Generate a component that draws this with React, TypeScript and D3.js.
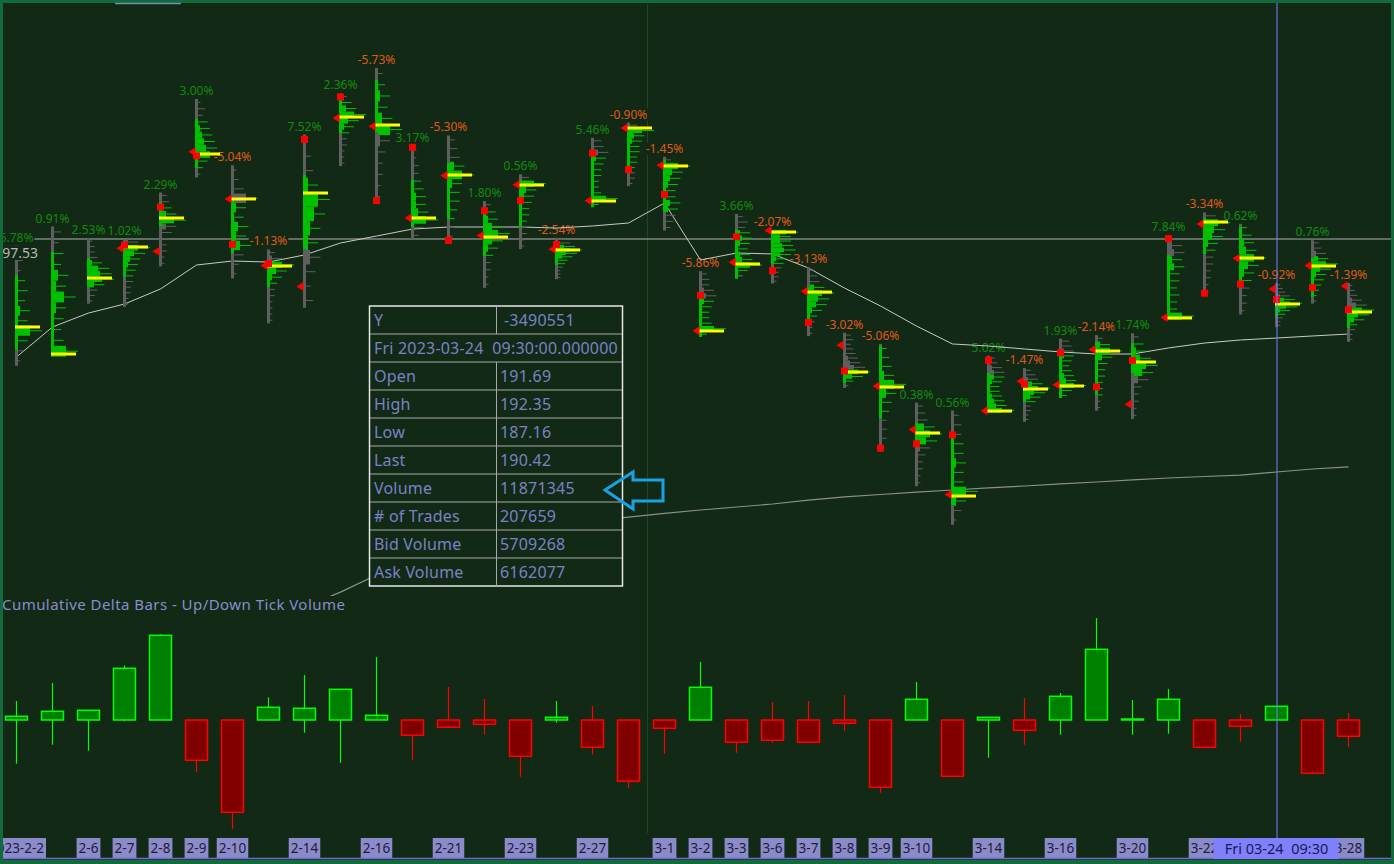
import * as d3 from 'd3';

// ---- data ----
const dates = ['2-2','2-3','2-6','2-7','2-8','2-9','2-10','2-13','2-14','2-15','2-16','2-17','2-21','2-22','2-23','2-24','2-27','2-28','3-1','3-2','3-3','3-6','3-7','3-8','3-9','3-10','3-13','3-14','3-15','3-16','3-17','3-20','3-21','3-22','3-23','3-24','3-27','3-28'];
const opens = [187.33,183.95,193.01,196.43,196.1,207.78,202.23,194.42,191.94,211.76,210.78,199.99,204.99,197.93,203.91,196.33,202.03,210.59,206.21,186.74,194.8,198.54,191.38,185.04,180.25,175.13,167.46,177.31,180.8,180.37,184.52,178.08,188.28,199.3,195.26,191.65,194.42,192.0];
const highs = [196.75,199.0,197.6,197.5,203.0,214.0,206.2,196.3,209.82,214.66,217.65,208.44,209.71,201.99,205.14,197.67,209.42,211.23,207.2,193.75,200.48,198.6,194.2,186.5,185.18,178.29,177.35,183.8,182.34,185.81,186.22,186.44,198.0,200.66,199.31,192.35,197.39,192.35];
const lows = [182.61,183.69,189.92,189.55,194.31,204.77,192.89,187.61,189.44,206.11,201.84,197.5,197.35,191.78,196.33,192.8,201.26,203.75,198.52,186.01,192.88,192.3,186.1,180.0,172.51,168.44,163.91,177.1,176.03,178.84,177.33,176.35,188.04,190.95,188.65,187.16,189.94,185.43];
const closes = [188.27,189.98,194.76,196.81,201.29,207.32,196.89,194.64,209.25,214.24,202.04,208.31,197.37,200.86,202.07,196.88,207.63,205.71,202.77,190.9,197.79,193.81,187.71,182.0,172.92,173.44,174.48,183.26,180.45,184.13,180.13,183.25,197.58,191.15,192.22,190.41,191.81,189.19];
const vaHighs = [193.29,196.0,195.29,196.59,201.88,211.65,202.24,194.82,205.06,213.88,216.24,204.47,206.47,200.82,204.47,196.82,207.65,210.59,206.82,190.71,198.59,198.35,191.88,182.24,184.94,175.88,174.24,181.76,180.71,184.12,185.41,185.29,195.65,200.0,198.94,190.71,195.29,189.18];
const vaLows = [184.47,183.69,191.88,193.06,199.06,205.88,195.88,191.88,196.35,210.0,210.12,198.94,199.88,195.53,198.94,194.47,201.29,205.88,200.71,186.01,192.88,194.59,188.12,180.59,176.47,173.53,166.24,177.29,178.35,178.84,179.18,181.76,188.12,195.76,192.12,188.35,190.71,187.06];
const pocs = [187.18,184.0,192.94,196.59,200.0,207.53,202.24,194.35,202.94,211.88,210.94,200.0,205.06,197.76,203.88,196.24,202.0,210.59,206.12,186.71,194.59,198.35,191.29,181.88,180.12,174.71,167.29,177.29,179.88,180.24,184.35,183.06,188.24,199.53,195.29,189.88,194.35,188.94];
const pctLabels = ['6.78%','0.91%','2.53%','1.02%','2.29%','3.00%','-5.04%','-1.13%','7.52%','2.36%','-5.73%','3.17%','-5.30%','1.80%','0.56%','-2.54%','5.46%','-0.90%','-1.45%','-5.86%','3.66%','-2.07%','-3.13%','-3.02%','-5.06%','0.38%','0.56%','5.02%','-1.47%','1.93%','-2.14%','1.74%','7.84%','-3.34%','0.62%','-0.92%','0.76%','-1.39%'];
// volume profile, 12 bins each, top -> bottom
const profiles = [
  [1,2,1,3,4,3,5,4,10,4,2,1],[3,2,4,3,6,5,9,5,4,3,4,10],[1,2,2,3,5,8,9,10,6,3,2,1],[5,10,8,6,5,4,3,3,2,2,1,1],
  [2,3,4,6,10,6,4,3,2,2,1,1],[1,3,2,4,5,6,7,8,10,4,2,1],[1,2,4,10,5,4,6,5,7,4,2,1],[2,5,10,7,5,3,2,2,1,1,1,1],
  [1,2,3,5,10,8,6,5,6,4,2,3],[2,4,6,10,7,5,3,2,2,1,1,1],[2,3,5,4,6,10,5,3,2,2,1,1],[1,1,2,2,3,4,5,5,6,10,4,2],
  [2,3,4,6,10,5,4,4,3,2,2,1],[2,4,5,7,10,7,5,3,2,2,1,1],[3,10,6,5,4,3,3,2,2,2,1,1],[3,5,7,10,8,6,4,3,2,1,1,1],
  [3,4,6,5,4,3,3,2,2,3,10,2],[3,10,6,5,4,4,3,3,2,2,2,1],[2,10,7,6,5,4,4,6,5,4,3,2],[2,3,3,5,6,5,4,3,3,4,10,2],
  [2,4,3,5,6,5,4,5,6,10,4,2],[10,7,7,8,9,7,5,4,3,2,2,1],[2,3,4,6,10,8,7,5,3,2,1,1],[2,3,2,3,4,5,6,8,10,7,3,1],
  [2,3,4,5,10,6,4,3,2,2,2,1],[2,3,4,7,10,8,5,3,2,2,1,1],[2,3,3,4,4,5,4,4,10,5,3,1],[2,3,5,6,6,5,4,4,5,6,7,10],
  [2,4,5,7,10,8,6,4,2,2,1,1],[3,4,5,5,4,3,4,5,6,10,4,2],[2,5,10,6,4,3,3,2,2,2,1,1],[2,4,5,7,10,8,6,3,2,2,1,1],
  [2,5,6,5,6,4,4,3,4,3,3,10],[4,10,8,7,5,4,3,3,2,2,1,1],[2,4,5,6,10,7,5,4,3,2,2,1],[1,2,3,5,7,10,8,5,3,2,1,1],
  [2,3,5,6,10,7,5,4,3,2,1,1],[1,2,3,5,7,10,8,6,3,2,1,1],
];
const markerStart = 3;
const avgLine = [183.65,187.18,188.82,189.88,191.65,194.47,194.94,194.82,195.65,197.06,197.88,198.7,198.94,198.94,198.94,198.82,199.06,199.41,201.76,195.06,195.88,195.77,194.12,191.76,189.65,187.29,185.18,184.94,184.59,184.24,184.0,184.0,184.71,185.29,185.65,185.88,186.12,186.35];
const slowStart = 8;
const slowLine = [154.24,155.99,158.0,159.53,160.82,162.0,162.94,163.76,164.35,164.82,165.24,165.65,166.0,166.35,166.82,167.18,167.47,167.76,168.0,168.24,168.47,168.71,168.94,169.18,169.41,169.59,169.76,170.12,170.47,170.71];
const refPrice = 197.53;
// cumulative delta bars (millions)
const deltaClose = [0.37,0.87,0.97,5.17,8.47,-4.03,-9.23,1.27,1.17,3.07,0.47,-1.53,-0.73,-0.43,-3.63,0.27,-2.73,-6.13,-0.83,3.27,-2.23,-2.03,-2.23,-0.33,-6.73,2.07,-5.63,0.27,-1.03,2.37,7.07,0.1,2.07,-2.73,-0.63,1.37,-5.33,-1.63];
const deltaHigh = [1.9,3.7,0.97,5.47,8.57,0,0,2.27,4.5,3.07,6.3,0.1,3.3,2.1,0,1.9,1.4,0,0,5.8,0,1.8,1.9,2.5,0,3.8,0,0.3,2.2,2.7,10.2,2.0,3.1,0,0.6,1.37,0,0.7];
const deltaLow = [-4.37,-2.47,-3.07,-0.13,0,-5.17,-10.87,0,-1.27,-4.27,0,-3.97,0,-1.47,-5.67,-0.27,-3.47,-6.77,-3.37,0,-3.27,-2.27,-2.23,-1.07,-7.27,0,-5.63,-3.77,-2.47,-1.47,0,-1.47,-1.37,-2.73,-2.17,0,-5.33,-2.67];
const axisDates = ['2-2','2-6','2-7','2-8','2-9','2-10','2-14','2-16','2-21','2-23','2-27','3-1','3-2','3-3','3-6','3-7','3-8','3-9','3-10','3-14','3-16','3-20','3-22','3-28'];
const axisTexts = ['2023-2-2','2-6','2-7','2-8','2-9','2-10','2-14','2-16','2-21','2-23','2-27','3-1','3-2','3-3','3-6','3-7','3-8','3-9','3-10','3-14','3-16','3-20','3-22','3-28'];
const cursorDate = '3-24';
const cursorText = 'Fri 03-24  09:30';
const tipLabels = ['Y','Fri 2023-03-24  09:30:00.000000','Open','High','Low','Last','Volume','# of Trades','Bid Volume','Ask Volume'];
const tipValues = ['-3490551','','191.69','192.35','187.16','190.42','11871345','207659','5709268','6162077'];

const BG = '#122a15';
const FRAME = '#136a3c';
const FONT = '"Noto Sans", "DejaVu Sans", sans-serif';
const GRAY = '#5f5f5f';
const GREEN = '#00c000';

function textW(s: string, size: number) {
  let w = 0;
  for (const ch of s) {
    if (/[0-9]/.test(ch)) w += 0.572;
    else if (ch === '-') w += 0.322;
    else if (ch === '.' || ch === ':') w += 0.27;
    else if (ch === '%') w += 0.82;
    else if (ch === ' ') w += 0.26;
    else w += 0.5;
  }
  return w * size;
}

export default function App() {
  const W = 1394;
  const H = 864;
  const x = d3.scalePoint<string>().domain(dates).range([16.5, 16.5 + 36 * (dates.length - 1)]);
  const y = d3.scaleLinear().domain([150, 220]).range([643, 48]);
  const yd = d3.scaleLinear().domain([-12, 12]).range([840, 600]);
  const bw = 3;

  const avgPath = d3.line<number>().x((_d, i) => x(dates[i])!).y((d) => y(d))(avgLine) || '';
  const slowPath = d3.line<number>().x((_d, i) => x(dates[i + slowStart])!).y((d) => y(d))(slowLine) || '';

  const cx = x(cursorDate)!;

  return (
    <svg width={W} height={H} style={{ position: 'absolute', left: 0, top: 0, display: 'block' }} fontFamily={FONT}>
      <defs>
        <clipPath id="mainClip"><rect x={3} y={3} width={1388} height={609} /></clipPath>
        <clipPath id="lowClip"><rect x={3} y={612} width={1388} height={226} /></clipPath>
        <clipPath id="axClip"><rect x={3} y={832} width={1388} height={28} /></clipPath>
      </defs>
      <rect x={0} y={0} width={W} height={H} fill={BG} />
      <line x1={647.5} x2={647.5} y1={4} y2={833} stroke="#1d4a1d" strokeWidth={1} />

      {/* main price pane */}
      <g clipPath="url(#mainClip)">
        <line x1={3} x2={1391} y1={y(refPrice)} y2={y(refPrice)} stroke="#b4b4b4" strokeWidth={1} />
        {pctLabels.map((t, i) => {
          const bx = x(dates[i])!;
          const base = y(highs[i]) - 4;
          const w = textW(t, 12);
          const neg = t.startsWith('-');
          return (
            <g key={'pct' + i}>
              <rect x={bx - w / 2 - 1} y={base - 10} width={w + 2} height={12} fill={BG} />
              <text x={bx} y={base} fontSize={12} textAnchor="middle" fill={neg ? '#e0581a' : '#118a11'}>{t}</text>
            </g>
          );
        })}
        <path d={avgPath} fill="none" stroke="#c8c8c8" strokeWidth={1} />
        <path d={slowPath} fill="none" stroke="#8e8e8e" strokeWidth={1.2} />

        {dates.map((dt, i) => {
          const bx = x(dt)!;
          const top = y(highs[i]);
          const bot = y(lows[i]);
          const prof = profiles[i];
          const n = prof.length;
          const binH = (bot - top) / n;
          const step = (highs[i] - lows[i]) / n;
          return (
            <g key={'prof' + i}>
              <rect x={bx - bw / 2} y={top} width={bw} height={bot - top} fill={GRAY} />
              <rect x={bx - bw / 2} y={y(vaHighs[i])} width={bw} height={y(vaLows[i]) - y(vaHighs[i])} fill={GREEN} />
              {prof.map((v, k) => {
                const pMid = highs[i] - (k + 0.5) * step;
                const col = pMid <= vaHighs[i] && pMid >= vaLows[i] ? GREEN : GRAY;
                const yt = top + k * binH;
                return (
                  <g key={k}>
                    {v >= 5 && <rect x={bx + bw / 2} y={yt} width={(v - 4) * 2} height={binH} fill={col} />}
                    <rect x={bx + bw / 2} y={yt + binH / 2 - 0.5} width={v * 2.4} height={1} fill={col} />
                  </g>
                );
              })}
              <rect x={bx - bw / 2} y={y(pocs[i]) - 1.5} width={25} height={3} fill="#ffff00" />
              {i >= markerStart && (
                <>
                  <path d={`M${bx - 8},${y(opens[i])} L${bx - 1},${y(opens[i]) - 4.5} L${bx - 1},${y(opens[i]) + 4.5} Z`} fill="#ff0000" />
                  <rect x={bx - 3.5} y={y(closes[i]) - 3.5} width={7} height={7} fill="#ff0000" />
                </>
              )}
            </g>
          );
        })}
        <rect x={3} y={246} width={36} height={14} fill={BG} />
        <text x={38} y={258} fontSize={14} textAnchor="end" fill="#b8b8b8">{refPrice.toFixed(2).padStart(6, '1')}</text>
      </g>

      {/* data window */}
      <g>
        <rect x={369.5} y={306} width={253} height={280} fill={BG} stroke="#e6e6e6" strokeWidth={1.5} />
        {tipLabels.map((lab, r) => {
          const ty = 306 + r * 28;
          return (
            <g key={'tip' + r}>
              {r > 0 && <line x1={370} x2={622} y1={ty} y2={ty} stroke="#a8a8a8" strokeWidth={1} />}
              {r !== 1 && <line x1={496.5} x2={496.5} y1={ty} y2={ty + 28} stroke="#a8a8a8" strokeWidth={1} />}
              <text x={374} y={ty + 20} fontSize={16} letterSpacing={0.2} fill="#7c80c6" style={{ whiteSpace: 'pre' }}>{lab}</text>
              {tipValues[r] && (
                <text x={r === 0 ? 504 : 500} y={ty + 20} fontSize={16} letterSpacing={0.2} fill="#7c80c6">{tipValues[r]}</text>
              )}
            </g>
          );
        })}
        <path d="M605,490 L633,472 L633,480 L663,480 L663,501 L633,501 L633,509 Z" fill="none" stroke="#16a2e4" strokeWidth={3} strokeLinejoin="miter" />
      </g>

      {/* lower pane */}
      <rect x={3} y={596} width={347} height={17} fill={BG} />
      <text x={2} y={610} fontSize={15} letterSpacing={0.45} fill="#8a8ace">Cumulative Delta Bars - Up/Down Tick Volume</text>
      <g clipPath="url(#lowClip)">
        {dates.map((dt, i) => {
          const bx = x(dt)!;
          const c = deltaClose[i];
          const up = c >= 0;
          const stroke = up ? '#00ff00' : '#ff0000';
          const fill = up ? '#008000' : '#800000';
          const bt = yd(Math.max(c, 0));
          const bb = yd(Math.min(c, 0));
          return (
            <g key={'cd' + i}>
              <line x1={bx} x2={bx} y1={yd(deltaHigh[i])} y2={yd(deltaLow[i])} stroke={stroke} strokeWidth={1.2} />
              <rect x={bx - 11} y={bt} width={22} height={Math.max(bb - bt, 1)} fill={fill} stroke={stroke} strokeWidth={1.5} />
            </g>
          );
        })}
      </g>

      {/* date axis */}
      <g clipPath="url(#axClip)">
        {axisDates.map((dt, i) => {
          const bx = x(dt)!;
          const w = textW(axisTexts[i], 13.5) + 4;
          return (
            <g key={'ax' + i}>
              <rect x={bx - w / 2} y={838} width={w} height={20} fill="#8b8bc9" />
              <text x={bx} y={853} fontSize={13.5} textAnchor="middle" fill="#1c1c3c">{axisTexts[i]}</text>
            </g>
          );
        })}
        <line x1={3} x2={1391} y1={858.5} y2={858.5} stroke="#6c6cd8" strokeWidth={1.5} />
      </g>

      {/* crosshair */}
      <line x1={cx + 0.5} x2={cx + 0.5} y1={3} y2={838} stroke="#7b7bff" strokeWidth={1} />
      <rect x={cx - 63} y={838} width={125} height={21} fill="#8080ff" />
      <text x={cx} y={853.5} fontSize={14.5} textAnchor="middle" fill="#1a1a50" style={{ whiteSpace: 'pre' }}>{cursorText}</text>

      {/* frame */}
      <rect x={0} y={0} width={W} height={3} fill={FRAME} />
      <rect x={0} y={0} width={3} height={H} fill={FRAME} />
      <rect x={W - 3} y={0} width={3} height={H} fill={FRAME} />
      <rect x={0} y={860} width={W} height={4} fill={FRAME} />
      <line x1={115} x2={181} y1={3.5} y2={3.5} stroke="#7090b4" strokeWidth={1.5} />
    </svg>
  );
}
